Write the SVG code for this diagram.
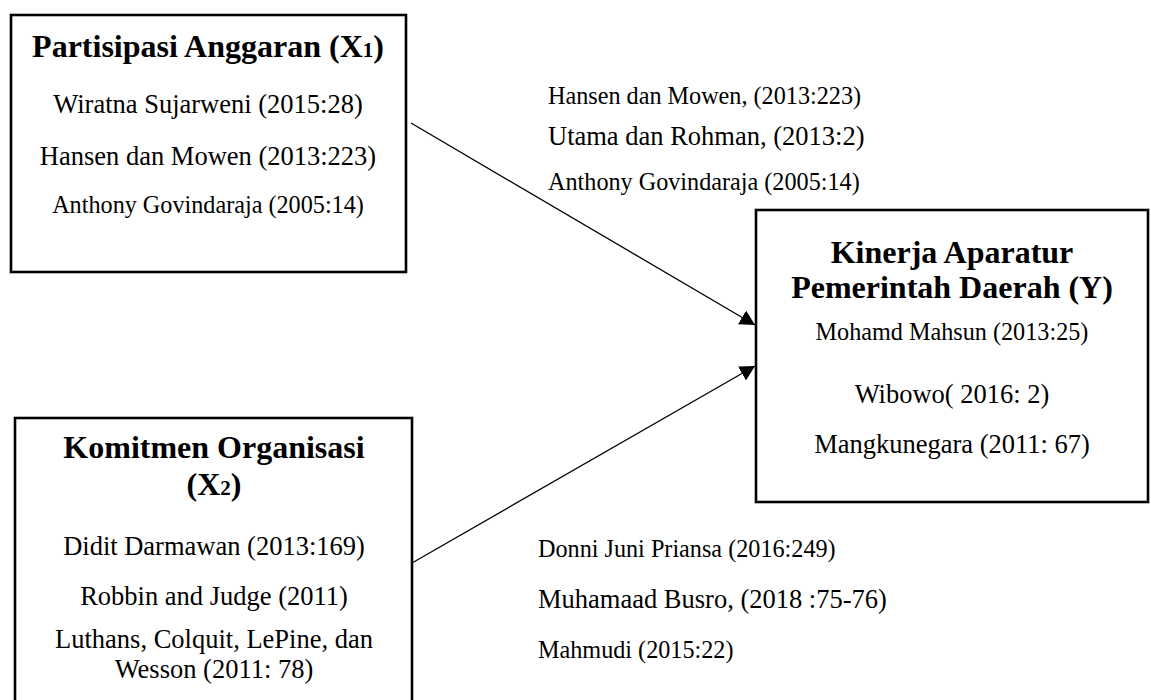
<svg xmlns="http://www.w3.org/2000/svg" width="1151" height="700" viewBox="0 0 1151 700">
<style>
  .box{fill:#fff;stroke:#000;stroke-width:2.6}
  text{font-family:"Liberation Serif","Times New Roman",serif;fill:#000}
  .t{font-size:32px;font-weight:bold;text-anchor:middle}
  .sub{font-size:21px}
  .c{text-anchor:middle}
  .s12{font-size:26.5px}
  .s11{font-size:24.2px}
  .ln{stroke:#000;stroke-width:1.3;fill:none}
</style>
<defs>
  <marker id="ah" markerUnits="userSpaceOnUse" viewBox="0 0 15 16" refX="15" refY="8" markerWidth="15" markerHeight="16" orient="auto">
    <path d="M0,0 L15,8 L0,16 z" fill="#000"/>
  </marker>
</defs>
<rect width="1151" height="700" fill="#fff"/>
<g id="connectors">
  <line class="ln" x1="411" y1="123" x2="755" y2="325" marker-end="url(#ah)"/>
  <line class="ln" x1="412" y1="563" x2="755" y2="366" marker-end="url(#ah)"/>
</g>
<g id="x1">
  <rect class="box" x="11" y="15" width="395" height="257"/>
  <text class="t" x="208" y="57">Partisipasi Anggaran (X<tspan class="sub">1</tspan>)</text>
  <text class="c s12" x="208" y="113">Wiratna Sujarweni (2015:28)</text>
  <text class="c s12" x="208" y="165">Hansen dan Mowen (2013:223)</text>
  <text class="c s11" x="208" y="213">Anthony Govindaraja (2005:14)</text>
</g>
<g id="x2">
  <rect class="box" x="15" y="418" width="397" height="300"/>
  <text class="t" x="214" y="458">Komitmen Organisasi</text>
  <text class="t" x="214" y="495">(X<tspan class="sub">2</tspan>)</text>
  <text class="c s12" x="214" y="555">Didit Darmawan (2013:169)</text>
  <text class="c s12" x="214" y="605">Robbin and Judge (2011)</text>
  <text class="c s12" x="214" y="648">Luthans, Colquit, LePine, dan</text>
  <text class="c s12" x="214" y="678">Wesson (2011: 78)</text>
</g>
<g id="y">
  <rect class="box" x="756" y="210" width="392" height="292"/>
  <text class="t" x="952" y="263">Kinerja Aparatur</text>
  <text class="t" x="952" y="298">Pemerintah Daerah (Y)</text>
  <text class="c s11" x="952" y="340">Mohamd Mahsun (2013:25)</text>
  <text class="c s12" x="952" y="403">Wibowo( 2016: 2)</text>
  <text class="c s12" x="952" y="453">Mangkunegara (2011: 67)</text>
</g>
<g id="labels-top">
  <text class="s11" x="548" y="104">Hansen dan Mowen, (2013:223)</text>
  <text class="s12" x="548" y="145">Utama dan Rohman, (2013:2)</text>
  <text class="s11" x="548" y="190">Anthony Govindaraja (2005:14)</text>
</g>
<g id="labels-bottom">
  <text class="s11" x="538" y="557">Donni Juni Priansa (2016:249)</text>
  <text class="s12" x="538" y="608">Muhamaad Busro, (2018 :75-76)</text>
  <text class="s11" x="538" y="658">Mahmudi (2015:22)</text>
</g>
</svg>
